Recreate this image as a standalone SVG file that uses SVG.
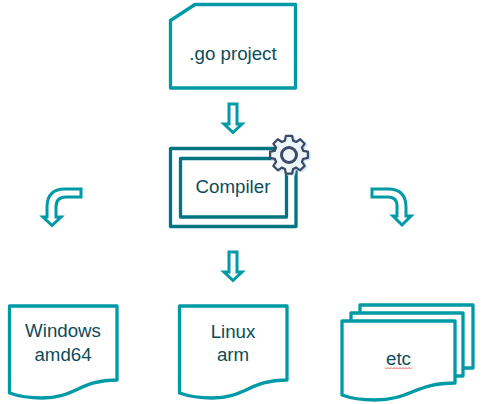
<svg xmlns="http://www.w3.org/2000/svg" width="482" height="404" viewBox="0 0 482 404">
<style>
.s{fill:#fff;stroke:#009aa6;stroke-width:3.300;stroke-linejoin:round}
.a{fill:#fff;stroke:#009aa6;stroke-width:3;stroke-linejoin:miter}
.c{fill:#fff;stroke:#00747f;stroke-width:3.300;stroke-linejoin:round}
.t{font-family:"Liberation Sans",Arial,sans-serif;font-size:18.700px;fill:#0c4c57;text-anchor:middle}
</style>
<defs>
<path id="gear" d="M-3.5-18.5 3.5-18.5 4.5-13.2 8-11.7 12.4-14.7 17.4-9.8 14.3-5.4 15.8-1.9 21-.9 21 6 15.8 7 14.3 10.5 17.4 14.9 12.4 19.8 8 16.8 4.5 18.3 3.5 23.5-3.5 23.5-4.5 18.3-8 16.8-12.4 19.8-17.4 14.9-14.3 10.5-15.8 7-21 6-21-.9-15.8-1.9-14.3-5.4-17.4-9.8-12.4-14.7-8-11.7-4.5-13.2Z" transform="translate(0 -2.5) scale(.9)"/>
</defs>
<g id="connectors">
<path class="a" d="M229 104H237V124H242L233 132.500 224 124H229Z"/>
<path class="a" d="M229 252H237V272H242L233 280.500 224 272H229Z"/>
<path class="a" d="M81 189V197H66Q56 197 56 207V217H61L52 225.500 43 217H47V207Q47 189 65 189Z"/>
<path class="a" d="M372 189V197H388Q397 197 397 206V216H393L402 225 411 216H406V207Q406 189 388 189Z"/>
</g>
<g id="project">
<path class="s" d="M170.500 20.500 195 4.500H295.500V88H170.500Z"/>
<text class="t" x="233" y="60">.go project</text>
</g>
<g id="compiler">
<rect class="c" x="170.500" y="148.500" width="125.500" height="78"/>
<rect class="c" x="180.500" y="158.500" width="106" height="58.500"/>
<text class="t" x="233" y="193">Compiler</text>
<g transform="translate(291 156)"><use href="#gear" fill="#cfe6f7" stroke="#cfe6f7" stroke-width="2"/></g>
<g transform="translate(289 155)"><use href="#gear" fill="#edf7fb" stroke="#3c4a68" stroke-width="2.500" stroke-linejoin="round"/><circle r="7.500" fill="none" stroke="#3c4a68" stroke-width="3"/></g>
</g>
<g id="windows">
<path class="s" d="M9.500 306H117V380C80 380 75 398 42 398 27 398 18 396 9.500 393Z"/>
<text class="t" x="63" y="337">Windows</text>
<text class="t" x="63" y="361">amd64</text>
</g>
<g id="linux">
<path class="s" d="M179.500 306H287V380C250 380 245 398 212 398 197 398 188 396 179.500 393Z"/>
<text class="t" x="233" y="338">Linux</text>
<text class="t" x="233" y="361">arm</text>
</g>
<g id="etc">
<path class="s" d="M360 305H473V368H360Z"/>
<path class="s" d="M351 313H463V376H351Z"/>
<path class="s" d="M342 321H455V383C415 383 410 400 375 400 360 400 350 398 342 395Z"/>
<text class="t" x="398.500" y="364.500">etc</text>
<path d="M385 367.500l1.500 1.500 1.500-1.500 1.500 1.500 1.500-1.500 1.500 1.500 1.500-1.500 1.500 1.500 1.500-1.500 1.500 1.500 1.500-1.500 1.500 1.500 1.500-1.500 1.500 1.500 1.500-1.500 1.500 1.500 1.500-1.500 1.500 1.500 1.500-1.500" fill="none" stroke="#e0443e" stroke-width=".8"/>
</g>
</svg>
